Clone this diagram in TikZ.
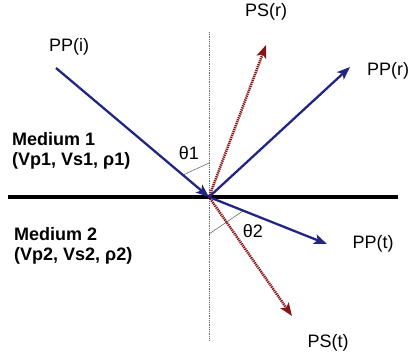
\documentclass[tikz,border=0pt]{standalone}
\usepackage{fontspec}
\setmainfont{Liberation Sans}
\usepackage{xcolor}
\usepackage{tikz}
\usetikzlibrary{arrows.meta, positioning, calc}

\definecolor{raynavy}{RGB}{35,38,128}
\definecolor{rayred}{RGB}{135,20,20}

\begin{document}
\begin{tikzpicture}[
    x=1pt, y=-1pt,
    pray/.style={-{Stealth[length=13pt, width=10pt, inset=3pt]}, line width=2.3pt, draw=raynavy, fill=raynavy},
    sray/.style={-{Stealth[length=13pt, width=10pt, inset=3pt]}, line width=2.6pt, draw=rayred, fill=rayred, dash pattern=on 1.2pt off 0.9pt},
    label/.style={font=\fontsize{18}{20}\selectfont, inner sep=0pt},
    medium/.style={font=\fontsize{18}{20.5}\selectfont\bfseries, align=left, anchor=west, inner sep=0pt},
    anglemark/.style={draw=black!65, line width=0.5pt}
]
\useasboundingbox (0,0) rectangle (410,357);

% Interface and normal
\coordinate (O) at (209,197);
\coordinate (left) at (8,197);
\coordinate (right) at (398,197);
\coordinate (top) at (209,32);
\coordinate (bottom) at (209,340);
\draw[black!60, line width=0.6pt, dash pattern=on 0.8pt off 1pt] (top) -- (bottom);
\draw[black, line width=4.5pt] (left) -- (right);

% Ray ends
\coordinate (PPi) at (56,68);
\coordinate (PSr) at (266,45);
\coordinate (PPr) at (350,67);
\coordinate (PPt) at (327,244);
\coordinate (PSt) at (292,316);

% Angle marks
\draw[anglemark] ($(O)!34pt!(PPi)$) -- ($(O)!34pt!(top)$);
\draw[anglemark] ($(O)!37pt!(bottom)$) -- ($(O)!37pt!(PPt)$);

% Rays
\draw[sray] (O) -- (PSr);
\draw[sray] (O) -- (PSt);
\draw[pray] (PPi) -- (O);
\draw[pray] (O) -- (PPr);
\draw[pray] (O) -- (PPt);

% Labels
\node[label] (lPPi) at (69,47) {PP(i)};
\node[label] (lPSr) at (266,12) {PS(r)};
\node[label] (lPPr) at (388,71) {PP(r)};
\node[label] (lPPt) at (373,244) {PP(t)};
\node[label] (lPSt) at (328,343) {PS(t)};
\node[label] (th1) at (189,153) {θ1};
\node[label] (th2) at (253,231) {θ2};

% Media
\node[medium] (m1) at (12,151) {Medium 1\\(Vp1, Vs1, ρ1)};
\node[medium] (m2) at (14,246) {Medium 2\\(Vp2, Vs2, ρ2)};

\end{tikzpicture}
\end{document}
